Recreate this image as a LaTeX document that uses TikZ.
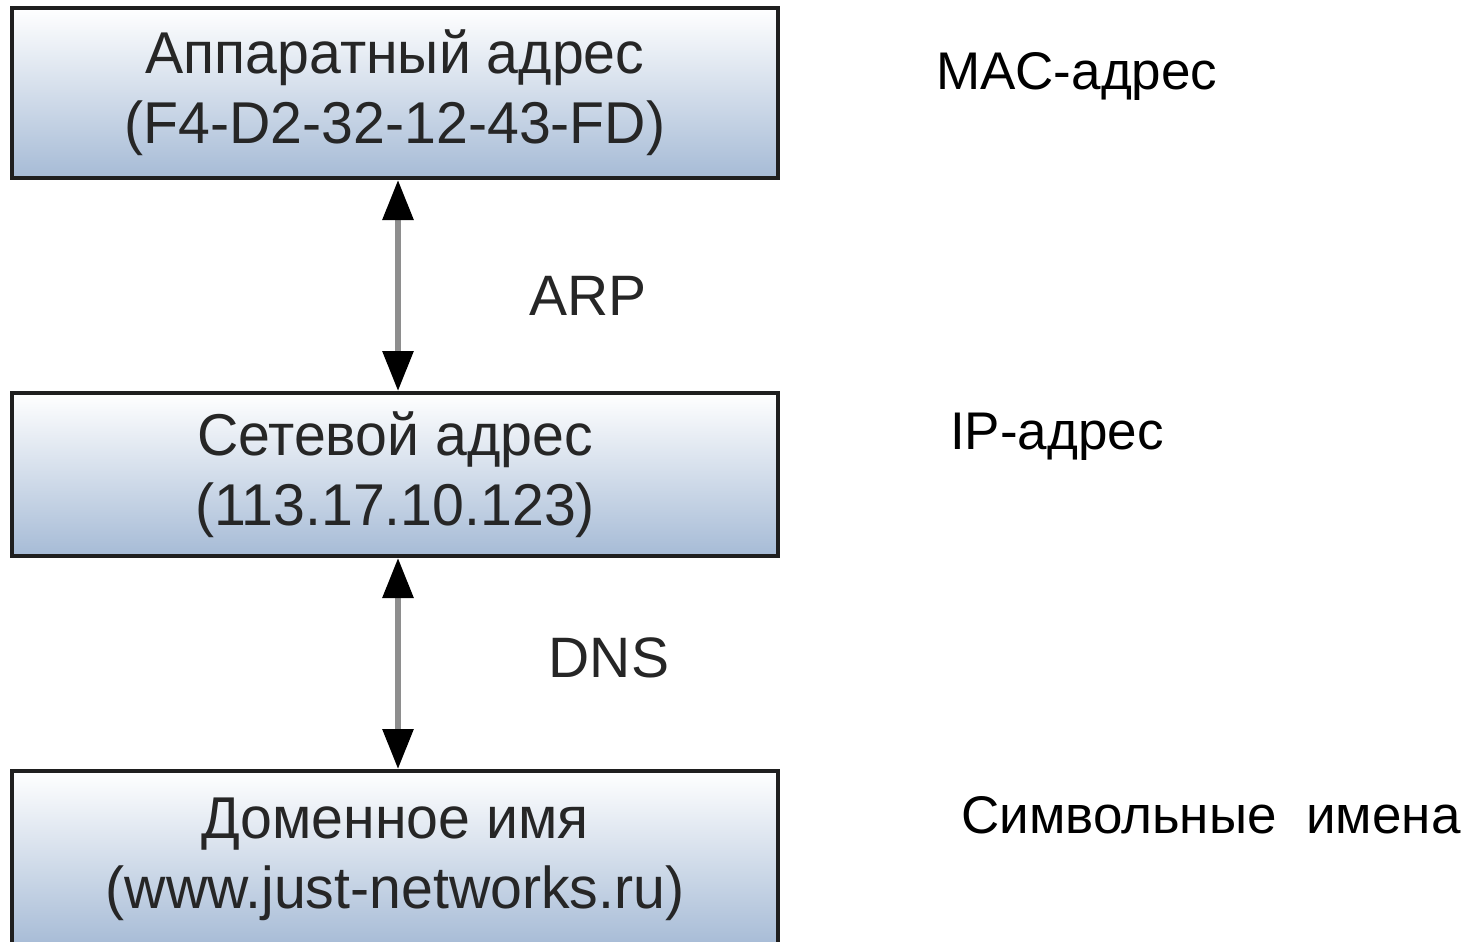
\documentclass[tikz,border=0pt]{standalone}
\usepackage{fontspec}
\setmainfont{Liberation Sans}
\newfontfamily\boxfont[FakeStretch=0.97]{Liberation Sans}
\usetikzlibrary{arrows.meta}
\definecolor{boxblue}{HTML}{A6BBD6}
\definecolor{boxtext}{HTML}{262626}
\definecolor{arrgray}{HTML}{8E8E8E}
\tikzset{
  addrbox/.style={draw=black!88, line width=4pt, top color=white, bottom color=boxblue,
    minimum width=766pt, align=center, text=boxtext, inner sep=0pt,
    font=\boxfont\fontsize{59}{70}\selectfont},
  conn/.style={draw=arrgray, line width=6pt,
    {Triangle[length=40pt,width=30pt,color=black]}-{Triangle[length=40pt,width=30pt,color=black]}},
  sidelabel/.style={anchor=west, inner sep=0pt, font=\fontsize{53}{60}\selectfont},
  protlabel/.style={inner sep=0pt, text=boxtext, font=\fontsize{57}{64}\selectfont}
}
\begin{document}
\begin{tikzpicture}[x=1pt,y=-1pt]
\useasboundingbox (0,0) rectangle (1472,942);
\node[addrbox, minimum height=170pt] (hw) at (395,93) {Аппаратный адрес\\(F4-D2-32-12-43-FD)};
\node[addrbox, minimum height=163pt] (net) at (395,474.5) {Сетевой адрес\\(113.17.10.123)};
\node[addrbox, minimum height=176pt] (dom) at (395,859) {Доменное имя\\(www.just-networks.ru)};
\draw[conn] ([xshift=3pt]hw.south) -- ([xshift=3pt]net.north);
\draw[conn] ([xshift=3pt]net.south) -- ([xshift=3pt]dom.north);
\node[protlabel] (arp) at (588,296) {ARP};
\node[protlabel] (dns) at (609,658) {DNS};
\node[sidelabel] (mac) at (936,76) {MAC-адрес};
\node[sidelabel] (ip) at (950,437) {IP-адрес};
\node[sidelabel] (sym) at (961,815) {Символьные\ \ имена};
\end{tikzpicture}
\end{document}
